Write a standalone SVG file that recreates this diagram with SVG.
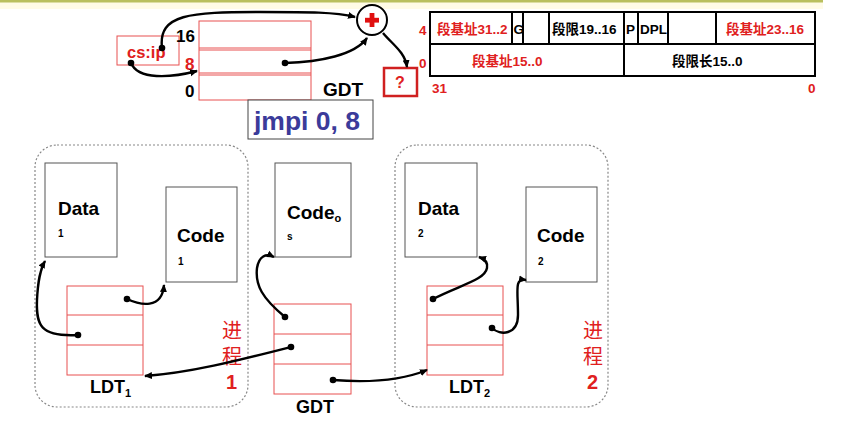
<svg xmlns="http://www.w3.org/2000/svg" width="842" height="426" viewBox="0 0 842 426">
<defs>
<marker id="ah" markerWidth="8" markerHeight="8" refX="7" refY="4" orient="auto" markerUnits="userSpaceOnUse">
<path d="M0,0.5 L8,4 L0,7.5 Z" fill="#000"/>
</marker>
<marker id="dot" markerWidth="8" markerHeight="8" refX="4" refY="4" markerUnits="userSpaceOnUse">
<circle cx="4" cy="4" r="3.3" fill="#000"/>
</marker>
</defs>
<style>
text{font-family:"Liberation Sans",Arial,"Noto Sans CJK SC",sans-serif;font-weight:bold}
.rt{fill:#e02020}
.rr{fill:none;stroke:#e85050;stroke-width:1}
.bx{fill:#fff;stroke:#555;stroke-width:1}
.tb{fill:none;stroke:#000;stroke-width:2}
.cn{fill:none;stroke:#000;stroke-width:2.4;marker-start:url(#dot);marker-end:url(#ah)}
.cn2{fill:none;stroke:#000;stroke-width:2.4;marker-end:url(#ah)}
.ds{fill:none;stroke:#888;stroke-width:1.2;stroke-dasharray:2,2}
.lb{font-size:19px;fill:#000}
.sb{font-size:10px;fill:#000}
.tt{font-size:13.5px}
.cj{font-size:20px;font-weight:normal}
</style>
<rect x="0" y="0" width="842" height="426" fill="#fff"/>
<rect x="0" y="2" width="823" height="7" fill="#fffbe6"/>
<rect x="0" y="0" width="823" height="2.5" fill="#b9bf5e"/>

<g id="cs-ip">
<rect x="117" y="36" width="62" height="29" class="rr"/>
<text x="127" y="58" class="rt" font-size="16.5">cs:ip</text>
</g>

<g id="gdt-top">
<rect x="199" y="21" width="112" height="79" class="rr"/>
<line x1="199" y1="48" x2="311" y2="48" class="rr"/>
<line x1="199" y1="50" x2="311" y2="50" class="rr"/>
<line x1="199" y1="73" x2="311" y2="73" class="rr"/>
<line x1="199" y1="75" x2="311" y2="75" class="rr"/>
<text x="176" y="42" font-size="17" fill="#000">16</text>
<text x="185" y="70" font-size="17" class="rt">8</text>
<text x="185" y="97" font-size="17" fill="#000">0</text>
<text x="323" y="96" font-size="19" fill="#000">GDT</text>
</g>

<g id="adder">
<circle cx="372" cy="20" r="15" fill="#fff" stroke="#000" stroke-width="2"/>
<rect x="365" y="17.8" width="14" height="4.8" fill="#e01010"/>
<rect x="369.6" y="13" width="4.8" height="14" fill="#e01010"/>
</g>

<g id="result">
<rect x="384" y="68" width="33" height="28" fill="#fff" stroke="#d02020" stroke-width="2.5"/>
<text x="395" y="88" font-size="16" class="rt">?</text>
</g>

<g id="jmpi">
<rect x="248" y="100" width="125" height="39" fill="#fff" stroke="#444" stroke-width="1"/>
<text x="254" y="130" font-size="26.5" fill="#3b3b9a">jmpi 0, 8</text>
</g>

<g id="descriptor">
<rect x="430" y="12" width="385" height="64" class="tb"/>
<line x1="430" y1="44" x2="815" y2="44" class="tb"/>
<line x1="512" y1="12" x2="512" y2="44" class="tb"/>
<line x1="523" y1="12" x2="523" y2="44" class="tb"/>
<line x1="549" y1="12" x2="549" y2="44" class="tb"/>
<line x1="624" y1="12" x2="624" y2="76" class="tb"/>
<line x1="638" y1="12" x2="638" y2="44" class="tb"/>
<line x1="668" y1="12" x2="668" y2="44" class="tb"/>
<line x1="716" y1="12" x2="716" y2="44" class="tb"/>
<text x="437" y="34" class="rt tt">段基址31..2</text>
<text x="513.5" y="34" class="tt" fill="#000">G</text>
<text x="552" y="34" class="tt" fill="#000">段限19..16</text>
<text x="626" y="34" class="tt" fill="#000">P</text>
<text x="640" y="34" class="tt" fill="#000">DPL</text>
<text x="726" y="34" class="rt tt">段基址23..16</text>
<text x="472" y="66" class="rt tt">段基址15..0</text>
<text x="672" y="66" class="tt" fill="#000">段限长15..0</text>
<text x="419" y="35" class="rt tt">4</text>
<text x="419" y="68" class="rt tt">0</text>
<text x="432" y="93" class="rt tt">31</text>
<text x="808" y="93" class="rt tt">0</text>
</g>

<g id="process1">
<rect x="35" y="145" width="213" height="262" rx="22" class="ds"/>
<text x="222" y="338" class="rt cj">进</text>
<text x="222" y="364" class="rt cj">程</text>
<text x="226" y="389" class="rt" font-size="20">1</text>
</g>

<g id="data1">
<rect x="45" y="163" width="72" height="94" class="bx"/>
<text x="58" y="215" class="lb">Data</text>
<text x="58" y="237" class="sb">1</text>
</g>

<g id="code1">
<rect x="166" y="187" width="71" height="95" class="bx"/>
<text x="177" y="242" class="lb">Code</text>
<text x="178" y="265" class="sb">1</text>
</g>

<g id="codeos">
<rect x="275" y="163" width="76" height="94" class="bx"/>
<text x="287" y="219" class="lb">Code<tspan font-size="11" dy="3">o</tspan></text>
<text x="287" y="240" class="sb">s</text>
</g>

<g id="ldt1">
<rect x="67" y="286" width="76" height="89" class="rr"/>
<line x1="67" y1="315" x2="143" y2="315" class="rr"/>
<line x1="67" y1="345" x2="143" y2="345" class="rr"/>
<text x="90" y="393" font-size="18" fill="#000">LDT<tspan font-size="11" dy="4">1</tspan></text>
</g>

<g id="gdt-bottom">
<rect x="274" y="304" width="77" height="90" class="rr"/>
<line x1="274" y1="334" x2="351" y2="334" class="rr"/>
<line x1="274" y1="364" x2="351" y2="364" class="rr"/>
<text x="296" y="413" font-size="18" fill="#000">GDT</text>
</g>

<g id="process2">
<rect x="395" y="145" width="213" height="262" rx="22" class="ds"/>
<text x="583" y="338" class="rt cj">进</text>
<text x="583" y="364" class="rt cj">程</text>
<text x="587" y="389" class="rt" font-size="20">2</text>
</g>

<g id="data2">
<rect x="405" y="163" width="72" height="94" class="bx"/>
<text x="418" y="215" class="lb">Data</text>
<text x="418" y="237" class="sb">2</text>
</g>

<g id="code2">
<rect x="526" y="187" width="71" height="95" class="bx"/>
<text x="537" y="242" class="lb">Code</text>
<text x="538" y="265" class="sb">2</text>
</g>

<g id="ldt2">
<rect x="427" y="286" width="76" height="89" class="rr"/>
<line x1="427" y1="315" x2="503" y2="315" class="rr"/>
<line x1="427" y1="345" x2="503" y2="345" class="rr"/>
<text x="449" y="393" font-size="18" fill="#000">LDT<tspan font-size="11" dy="4">2</tspan></text>
</g>

<g id="connectors">
<path class="cn" d="M131,63 C 138,80 170,78 197,71"/>
<path class="cn" d="M162,48 C 158,14 190,12 260,12 C 310,12 335,12 355,17"/>
<path class="cn" d="M285,63 C 320,62 355,55 367,38"/>
<path class="cn2" d="M383,33 C 392,44 405,52 407,67"/>
<path class="cn" d="M127,299 C 140,305 162,310 164,285"/>
<path class="cn" d="M78,335 C 40,337 36,325 37,300 C 38,280 40,270 45,261"/>
<path class="cn" d="M285,317 C 262,298 255,285 257,268 C 259,256 266,253 274,257"/>
<path class="cn" d="M291,347 C 240,360 190,373 145,376"/>
<path class="cn" d="M333,380 C 370,383 400,381 427,370"/>
<path class="cn" d="M433,299 C 460,285 485,280 487,268 C 488,262 485,259 479,257"/>
<path class="cn" d="M492,328 C 500,336 518,335 518,315 C 518,290 514,278 526,280"/>
</g>
</svg>
